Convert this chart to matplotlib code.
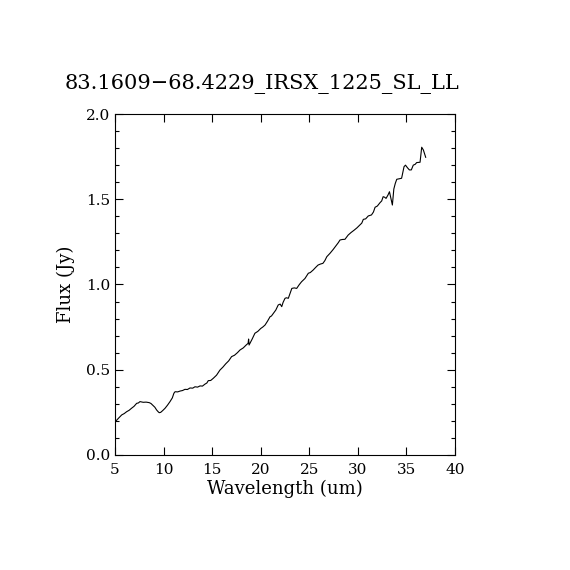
import matplotlib
matplotlib.use("Agg")
import matplotlib.pyplot as plt
from matplotlib.ticker import MultipleLocator

wavelength = [5.0, 5.02, 5.1, 5.17, 5.4, 5.69, 5.95, 6.2, 6.45, 6.7, 6.95, 7.23, 7.4, 7.57, 7.75,
              7.9, 8.2, 8.52, 8.7, 8.87, 9.1, 9.28, 9.45, 9.55, 9.7, 9.9, 10.15, 10.4, 10.66,
              10.9, 11.06, 11.18, 11.45, 11.7, 11.95, 12.2, 12.45, 12.72, 13.0, 13.23, 13.5,
              13.75, 14.0, 14.27, 14.45, 14.6, 14.85, 15.12, 15.45, 15.8, 16.1, 16.4, 16.7,
              17.0, 17.3, 17.6, 17.87, 18.2, 18.5, 18.7, 18.75, 18.8, 19.1, 19.4, 19.7, 20.0,
              20.2, 20.44, 20.7, 20.96, 21.1, 21.3, 21.55, 21.8, 22.0, 22.16, 22.3, 22.5,
              22.65, 22.84, 23.0, 23.2, 23.45, 23.7, 23.95, 24.2, 24.55, 24.9, 25.1, 25.4,
              25.65, 25.9, 26.15, 26.4, 26.6, 26.8, 27.13, 27.45, 27.8, 27.98, 28.16, 28.4,
              28.67, 29.0, 29.3, 29.6, 29.9, 30.2, 30.4, 30.56, 30.8, 31.07, 31.4, 31.6,
              31.77, 32.0, 32.28, 32.45, 32.6, 32.75, 32.9, 33.1, 33.25, 33.4, 33.55, 33.7,
              33.85, 34.0, 34.25, 34.5, 34.62, 34.75, 34.9, 35.1, 35.3, 35.5, 35.7, 35.9,
              36.05, 36.25, 36.4, 36.57, 36.74, 36.98]
flux = [0.248, 0.195, 0.2, 0.205, 0.218, 0.235, 0.243, 0.254, 0.262, 0.274, 0.285, 0.303, 0.305,
        0.313, 0.311, 0.309, 0.31, 0.307, 0.302, 0.293, 0.28, 0.264, 0.253, 0.248, 0.25, 0.26,
        0.274, 0.292, 0.313, 0.335, 0.362, 0.371, 0.37, 0.375, 0.378, 0.385, 0.384, 0.393, 0.392,
        0.4, 0.398, 0.405, 0.404, 0.416, 0.422, 0.436, 0.437, 0.45, 0.468, 0.498, 0.515, 0.535,
        0.552, 0.577, 0.585, 0.6, 0.616, 0.628, 0.645, 0.655, 0.68, 0.645, 0.678, 0.714, 0.725,
        0.742, 0.75, 0.762, 0.785, 0.811, 0.815, 0.831, 0.85, 0.88, 0.885, 0.87, 0.895, 0.919,
        0.922, 0.919, 0.945, 0.977, 0.98, 0.977, 0.998, 1.016, 1.035, 1.066, 1.07, 1.085, 1.1,
        1.114, 1.12, 1.124, 1.14, 1.163, 1.183, 1.205, 1.232, 1.245, 1.261, 1.264, 1.265, 1.29,
        1.305, 1.318, 1.332, 1.349, 1.36, 1.382, 1.385, 1.402, 1.408, 1.425, 1.453, 1.46, 1.48,
        1.49, 1.515, 1.512, 1.505, 1.525, 1.544, 1.505, 1.466, 1.56, 1.593, 1.617, 1.62, 1.623,
        1.655, 1.691, 1.70, 1.685, 1.672, 1.672, 1.70, 1.705, 1.715, 1.716, 1.717, 1.805, 1.789,
        1.746]

title = "83.1609\u221268.4229_IRSX_1225_SL_LL"

plt.rcParams['font.family'] = ['DejaVu Serif']
fig = plt.figure(figsize=(5.7, 5.7), dpi=100)
ax = fig.add_axes([0.2018, 0.2018, 0.5965, 0.5982])
ax.plot(wavelength, flux, color='black', linewidth=0.8)
ax.set_xlim(5, 40)
ax.set_ylim(0, 2.0)
ax.xaxis.set_major_locator(MultipleLocator(5))
ax.yaxis.set_major_locator(MultipleLocator(0.5))
ax.yaxis.set_minor_locator(MultipleLocator(0.1))
ax.yaxis.set_major_formatter(matplotlib.ticker.FormatStrFormatter('%.1f'))
ax.tick_params(which='both', direction='in', top=True, right=True, labelsize=11, width=0.8)
ax.tick_params(which='major', length=6)
ax.tick_params(which='minor', length=3)
ax.tick_params(axis='x', pad=6)
for s in ax.spines.values():
    s.set_linewidth(0.8)
ax.set_xlabel("Wavelength (um)", fontsize=13, labelpad=2)
ax.set_ylabel("Flux (Jy)", fontsize=13, labelpad=8)
fig.text(262 / 570, 1 - 84 / 570, title, fontsize=15, ha='center', va='center')
fig.savefig("out.png", dpi=100)
